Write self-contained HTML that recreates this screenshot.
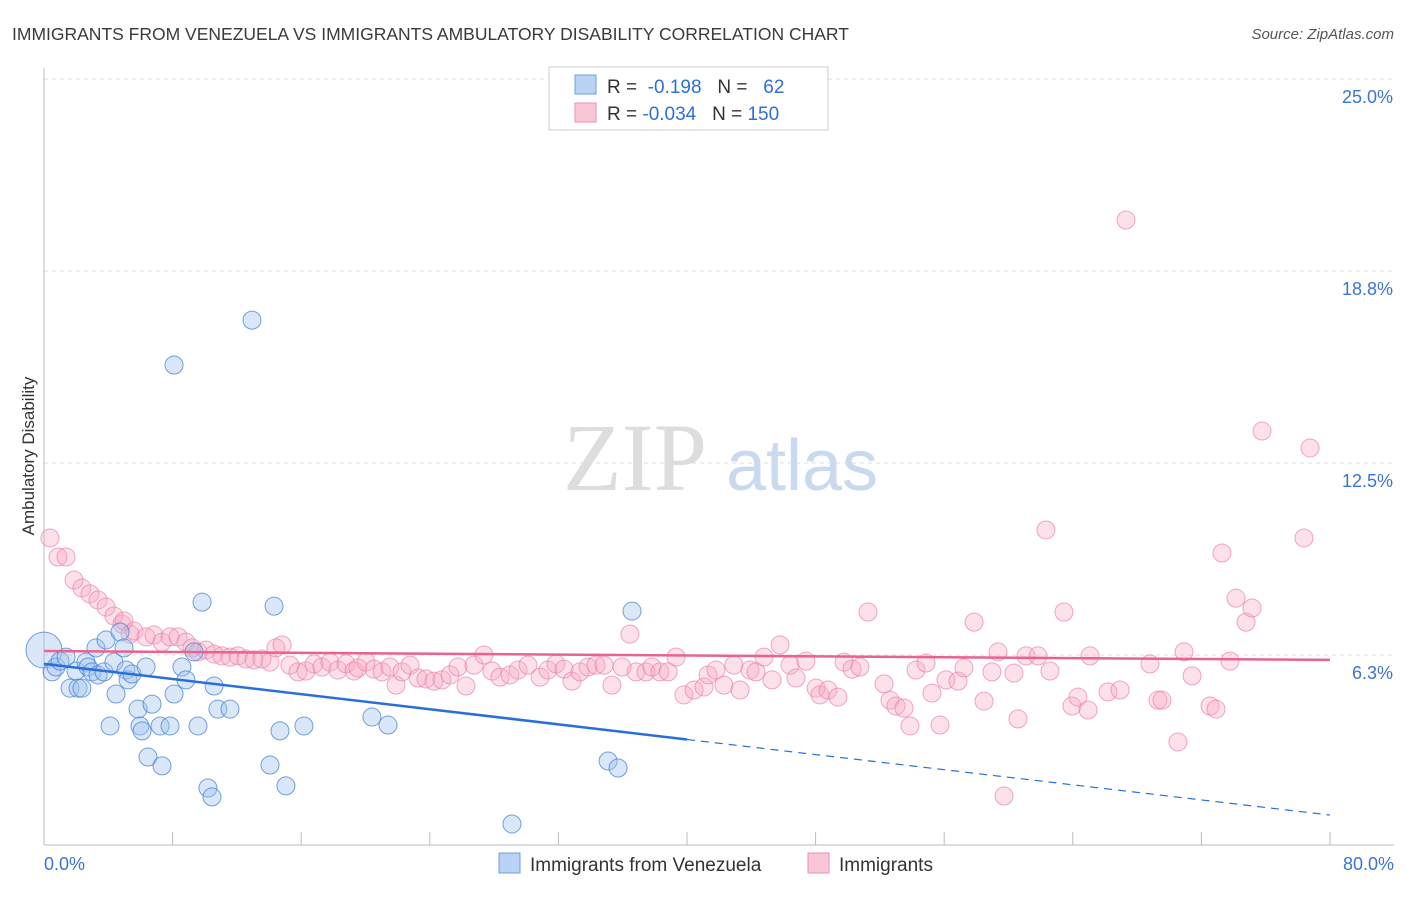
<!DOCTYPE html>
<html><head><meta charset="utf-8"><style>
body{margin:0;background:#fff;font-family:"Liberation Sans",sans-serif}
svg text{font-family:"Liberation Sans",sans-serif}
</style></head><body>
<svg id="chart" width="1406" height="892" viewBox="0 0 1406 892" xmlns="http://www.w3.org/2000/svg">
<text x="12" y="40" font-size="17.5" fill="#3a3a3a">IMMIGRANTS FROM VENEZUELA VS IMMIGRANTS AMBULATORY DISABILITY CORRELATION CHART</text>
<text x="1394" y="39" font-size="15" fill="#555" text-anchor="end" font-style="italic">Source: ZipAtlas.com</text>
<text transform="translate(34,456) rotate(-90)" font-size="17" fill="#333" text-anchor="middle">Ambulatory Disability</text>
<g>
<text x="635" y="490" font-size="96" fill="#ddd" text-anchor="middle" font-family="Liberation Serif" style="font-family:'Liberation Serif',serif">ZIP</text>
<text x="802" y="490" font-size="72" fill="#c9d9ef" text-anchor="middle">atlas</text>
</g>
<g id="grid"></g><g id="axes"></g><g id="pinkpts"></g><g id="bluepts"></g><g id="trends"></g>
<g>
<rect x="549" y="67" width="279" height="63" fill="#fff" stroke="#ccc"/>
<rect x="575" y="75" width="21" height="19" fill="#b8d3f4" stroke="#6d9fe0"/>
<rect x="575" y="103" width="21" height="19" fill="#f9c6d6" stroke="#ee91ae"/>
<text x="607" y="93" font-size="19" fill="#333">R = <tspan fill="#2f6fd6">&#160;-0.198</tspan>&#160;&#160;&#160;N = <tspan fill="#2f6fd6">&#160;&#160;62</tspan></text>
<text x="607" y="120" font-size="19" fill="#333">R = <tspan fill="#2f6fd6">-0.034</tspan>&#160;&#160;&#160;N = <tspan fill="#2f6fd6">150</tspan></text>
</g>
<g>
<rect x="499" y="853" width="21" height="20" fill="#b8d3f4" stroke="#6d9fe0"/>
<text x="530" y="871" font-size="19" fill="#333">Immigrants from Venezuela</text>
<rect x="808" y="853" width="21" height="20" fill="#f9c6d6" stroke="#ee91ae"/>
<text x="839" y="871" font-size="19" fill="#333">Immigrants</text>
</g>
</svg>
<script>
const xTickLabels=["0.0%","80.0%"];
const yTicks=[6.25,12.5,18.75,25];
const yTickLabels=["6.3%","12.5%","18.8%","25.0%"];
const blueX=[0,0.5,0.75,1,1.37,1.62,1.99,2.12,2.36,2.61,2.74,2.99,3.23,3.36,3.73,3.86,4.11,4.35,4.48,4.73,4.98,5.1,5.23,5.47,5.85,5.97,6.1,6.35,6.47,6.72,7.22,7.34,7.84,8.09,8.09,8.58,8.83,9.33,9.58,9.83,10.2,10.45,10.58,10.82,11.57,12.94,14.06,14.31,14.68,15.05,16.17,20.4,21.4,29.11,35.09,35.71,36.58];
const blueY=[6.41,5.7,5.86,6.05,6.18,5.17,5.73,5.17,5.17,6.02,5.86,5.7,6.48,5.6,5.7,6.74,3.94,6.02,4.98,7,6.48,5.76,5.44,5.63,4.49,3.94,3.78,5.86,2.93,4.65,3.94,2.64,3.94,4.98,15.69,5.86,5.44,6.35,3.94,7.97,1.92,1.63,5.24,4.49,4.49,17.15,2.67,7.84,3.78,1.99,3.94,4.23,3.97,0.75,2.8,2.57,7.68];
const pinkX=[0.37,0.87,1.37,1.87,2.36,2.86,3.36,3.86,4.35,4.85,4.98,5.35,5.6,6.35,6.84,7.34,7.84,8.34,8.83,9.21,9.58,10.08,10.58,11.07,11.57,12.07,12.57,13.06,13.56,14.06,14.43,14.81,15.3,15.8,16.3,16.8,17.29,17.79,18.29,18.79,19.29,19.53,20.03,20.53,21.03,21.52,21.9,22.27,22.77,23.27,23.76,24.26,24.76,25.26,25.75,26.25,26.75,27.37,27.87,28.37,28.99,29.49,30.11,30.86,31.35,31.85,32.35,32.85,33.34,33.84,34.34,34.84,35.33,35.96,36.45,36.83,37.45,37.82,38.32,38.82,39.32,39.81,40.44,41.06,41.31,41.8,42.3,42.92,43.3,43.92,44.29,44.79,45.29,45.79,46.41,46.78,47.4,48.03,48.27,48.77,49.39,49.77,50.27,50.76,51.26,52.26,52.63,53,53.5,53.87,54.25,54.87,55.24,55.74,56.11,56.86,57.23,57.86,58.48,58.97,59.35,59.72,60.34,60.59,61.09,61.84,62.33,62.58,63.45,63.95,64.32,64.95,65.07,66.19,66.94,67.31,68.8,69.3,69.55,70.54,70.92,71.42,72.54,72.91,73.28,73.78,74.15,74.78,75.15,75.77,78.38,78.76];
const pinkY=[10.06,9.44,9.44,8.69,8.43,8.24,8.04,7.81,7.52,7.26,7.36,6.93,7.03,6.84,6.9,6.67,6.84,6.84,6.67,6.48,6.35,6.41,6.28,6.22,6.18,6.22,6.12,6.09,6.12,6.02,6.48,6.58,5.92,5.7,5.73,5.96,5.86,6.02,5.76,5.96,5.73,5.83,6.02,5.79,5.7,5.86,5.27,5.7,5.92,5.5,5.47,5.4,5.44,5.6,5.86,5.24,5.92,6.25,5.73,5.53,5.6,5.76,5.92,5.53,5.76,5.96,5.79,5.4,5.7,5.86,5.92,5.92,5.27,5.86,6.93,5.7,5.7,5.86,5.7,5.7,6.18,4.95,5.11,5.21,5.6,5.76,5.27,5.92,5.11,5.76,5.7,6.18,5.44,6.58,5.92,5.5,6.05,5.17,4.95,5.11,4.88,6.02,5.79,5.86,7.65,5.31,4.78,4.59,4.52,3.94,5.76,5.99,5.01,3.97,5.44,5.4,5.83,7.32,4.75,5.7,6.35,1.66,5.66,4.17,6.22,6.22,10.32,5.73,7.65,4.59,4.88,4.46,6.22,5.05,5.11,20.41,5.96,4.78,4.78,3.42,6.35,5.57,4.59,4.49,9.57,6.05,8.1,7.32,7.78,13.54,10.06,12.99];
const blueTrend=[5.96,1.04]; // y at x=0 and x=80
const blueTrendSolidEnd=40;
const pinkTrend=[6.38,6.09];

const NS="http://www.w3.org/2000/svg";
const X0=44,X1=1330,Y0=847,PXPER=192/6.25;
function sx(v){return X0+(X1-X0)*v/80;}
function sy(v){return Y0-v*PXPER;}
function mk(tag,attrs,parent){const e=document.createElementNS(NS,tag);for(const k in attrs)e.setAttribute(k,attrs[k]);parent.appendChild(e);return e;}
const grid=document.getElementById('grid'),axes=document.getElementById('axes');
yTicks.forEach((t,i)=>{
  const l=mk('line',{x1:X0,x2:1394,y1:sy(t),y2:sy(t),stroke:'#ddd','stroke-dasharray':'4,4'},grid);
  
  
  const tx=mk('text',{x:1393,y:sy(t)+24,'font-size':18,fill:'#3b74d6','text-anchor':'end'},grid);
  tx.textContent=yTickLabels[i];
  
  
});
const ya=mk('line',{x1:X0,x2:X0,y1:68,y2:845,stroke:'#bbb'},axes);


const xa=mk('line',{x1:X0,x2:1394,y1:845,y2:845,stroke:'#bbb'},axes);


for(let i=0;i<=10;i++){
  const t=mk('line',{x1:sx(i*8),x2:sx(i*8),y1:832,y2:845,stroke:'#bbb'},axes);
  
  
}
[[0,'start',44],[80,'end',1394]].forEach((d,i)=>{
  const t=mk('text',{x:d[2],y:870,'font-size':18,fill:'#3b74d6','text-anchor':d[1]},axes);
  t.textContent=xTickLabels[i];
  
  
});
const pg=document.getElementById('pinkpts');
pinkX.forEach((x,i)=>{
  const c=mk('circle',{cx:sx(x),cy:sy(pinkY[i]),r:9,fill:'rgba(246,170,195,0.35)',stroke:'rgba(236,130,165,0.7)','stroke-width':1},pg);
  
  
});
const bg=document.getElementById('bluepts');
blueX.forEach((x,i)=>{
  const c=mk('circle',{cx:sx(x),cy:sy(blueY[i]),r:i===0?18:9,fill:'rgba(160,196,238,0.4)',stroke:'rgba(70,130,215,0.75)','stroke-width':1},bg);
  
  
});
const tg=document.getElementById('trends');
function ty(tr,x){return tr[0]+(tr[1]-tr[0])*x/80;}
const b1=mk('line',{x1:sx(0),y1:sy(ty(blueTrend,0)),x2:sx(blueTrendSolidEnd),y2:sy(ty(blueTrend,blueTrendSolidEnd)),stroke:'#2a6fd8','stroke-width':2.5},tg);


const b2=mk('line',{x1:sx(blueTrendSolidEnd),y1:sy(ty(blueTrend,blueTrendSolidEnd)),x2:sx(80),y2:sy(ty(blueTrend,80)),stroke:'#2a6fd8','stroke-width':1.2,'stroke-dasharray':'8,6'},tg);


const p1=mk('line',{x1:sx(0),y1:sy(pinkTrend[0]),x2:sx(80),y2:sy(pinkTrend[1]),stroke:'#e8638e','stroke-width':2.5},tg);


</script>
</body></html>
